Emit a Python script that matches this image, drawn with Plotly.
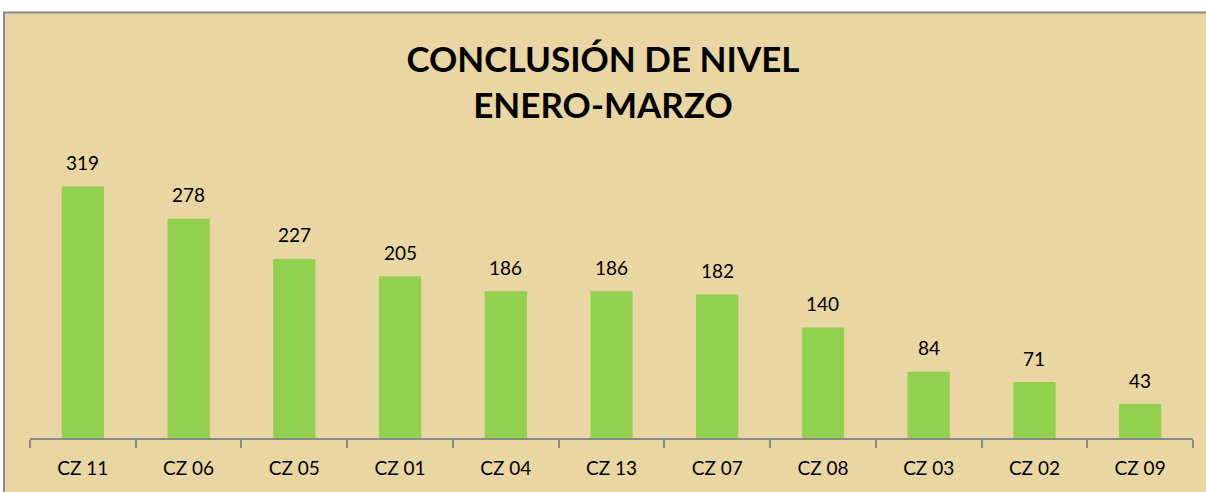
import plotly.graph_objects as go

categories = ["CZ 11", "CZ 06", "CZ 05", "CZ 01", "CZ 04", "CZ 13", "CZ 07", "CZ 08", "CZ 03", "CZ 02", "CZ 09"]
values = [319, 278, 227, 205, 186, 186, 182, 140, 84, 71, 43]
title_lines = ["CONCLUSIÓN DE NIVEL", "ENERO-MARZO"]

W, H = 1206, 492
L, R, T, B = 30, 13, 162, 54
pw = W - L - R
ph = H - T - B

def fx(px):
    return (px - L) / pw

def fy(py):
    return (H - B - py) / ph

fig = go.Figure()
fig.add_trace(go.Bar(
    x=categories, y=values,
    marker=dict(color="#92D050", line=dict(width=0)),
    hoverinfo="x+y",
))

for c, v in zip(categories, values):
    fig.add_annotation(x=c, y=v, text=str(v), showarrow=False,
                       yanchor="middle", yshift=24,
                       font=dict(family="Lato", size=19, color="#000000"))

# chart-area background with border (left/top visible)
fig.add_shape(type="rect", xref="paper", yref="paper",
              x0=fx(4), x1=fx(W + 20), y0=fy(H + 20), y1=fy(12.5),
              fillcolor="#EAD6A3", line=dict(color="#8A8A8A", width=2),
              layer="below")

fig.update_layout(
    width=W, height=H,
    margin=dict(l=L, r=R, t=T, b=B),
    paper_bgcolor="#FFFFFF",
    plot_bgcolor="rgba(0,0,0,0)",
    bargap=0.6,
    showlegend=False,
    title=dict(text="<br>".join(title_lines), x=0.5, xanchor="center",
               y=1 - 72 / H, yanchor="middle", yref="container",
               font=dict(family="Lato", size=35, color="#000000", weight="bold")),
    xaxis=dict(type="category", showline=True, linecolor="#8A8A8A", linewidth=2,
               ticks="outside", tickson="boundaries", ticklen=8, tickcolor="#8A8A8A",
               tickwidth=2, showgrid=False, ticklabelstandoff=12,
               tickfont=dict(family="Lato", size=19, color="#000000")),
    yaxis=dict(range=[0, 350], visible=False, showgrid=False, zeroline=False),
)

fig.write_html("out.html", config={"displayModeBar": False},
               post_script="document.body.style.margin='0';document.body.style.overflow='hidden';")
